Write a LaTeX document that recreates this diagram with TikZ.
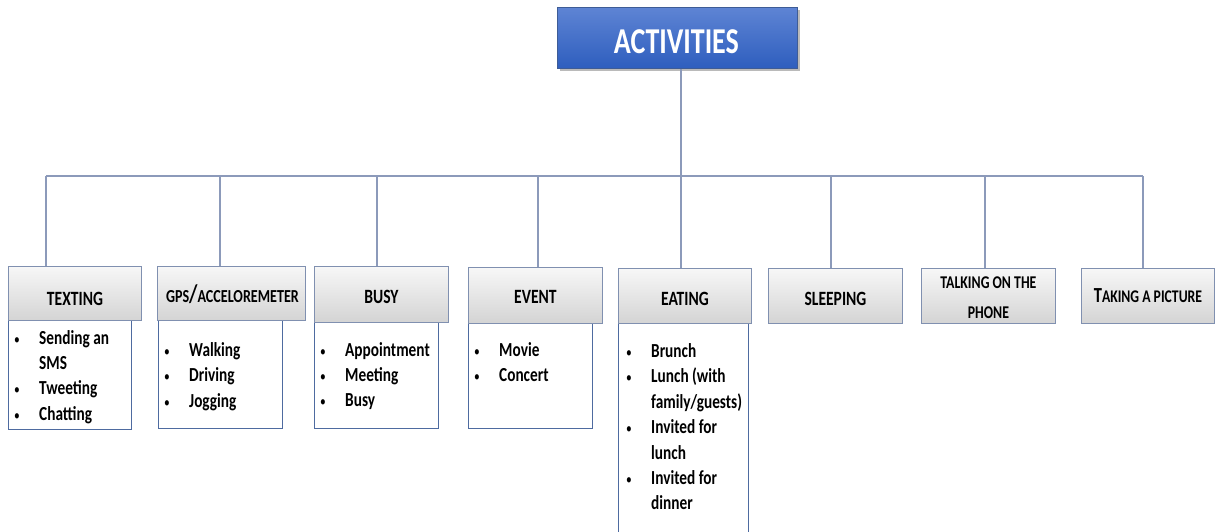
\documentclass[tikz,border=0pt]{standalone}
\usepackage{fontspec}
\setmainfont{Carlito}
\usetikzlibrary{shadows,calc}
\definecolor{linec}{RGB}{140,154,186}
\definecolor{boxb}{RGB}{78,107,160}
\definecolor{hdrb}{RGB}{128,144,176}
\definecolor{hdrtop}{RGB}{247,247,247}
\definecolor{hdrbot}{RGB}{212,212,212}
\definecolor{titletop}{RGB}{94,132,212}
\definecolor{titlebot}{RGB}{46,94,190}
\definecolor{titleb}{RGB}{62,92,150}
\newcommand\vs[1]{\scalebox{1}[1.3]{#1}}
\newcommand\bfs[1]{\fontsize{#1}{#1}\selectfont}
\newcommand\li{\makebox[26pt][l]{\hspace*{1pt}{\normalfont\fontsize{11.5}{11.5}\selectfont•}}}
\newcommand\lc{\hspace*{26pt}}
\newcommand\lst[1]{\vs{\fontsize{15.3}{19.55}\selectfont\begin{tabular}[t]{@{}l@{}}#1\end{tabular}}}
\begin{document}
\begin{tikzpicture}[x=1pt,y=-1pt,
  conn/.style={draw=linec,line width=1.3pt},
  titlebox/.style={draw=titleb,line width=0.8pt,top color=titletop,bottom color=titlebot,inner sep=0,anchor=north west,
    drop shadow={shadow xshift=2.5pt,shadow yshift=-2.5pt,opacity=0.45,fill=black!60}},
  hdr/.style={draw=hdrb,line width=0.9pt,top color=hdrtop,bottom color=hdrbot,inner sep=0,anchor=north west},
  body/.style={draw=boxb,line width=0.9pt,fill=white,inner sep=0,anchor=north west},
  htext/.style={inner sep=0,anchor=base,font=\bfseries,text=black},
  ltext/.style={inner sep=0,anchor=base west,font=\bfseries,text=black}
]
\useasboundingbox (0,0) rectangle (1215,531);
\fill[white] (0,0) rectangle (1215,531);

% title
\node[titlebox,minimum width=240pt,minimum height=61pt] (act) at (557,7) {};
\node[htext,text=white] (actt) at ($(act.center)+(-1,15.3)$) {\vs{\bfs{28}ACTIVITIES}};

% bodies
\node[body,minimum width=123pt,minimum height=109pt] (c1) at (8,320) {};
\node[body,minimum width=124pt,minimum height=108pt] (c2) at (158,320) {};
\node[body,minimum width=124pt,minimum height=107pt] (c3) at (314,321) {};
\node[body,minimum width=124pt,minimum height=106pt] (c4) at (468,322) {};
\node[body,minimum width=130pt,minimum height=215pt] (c5) at (618,323) {};

% headers
\node[hdr,minimum width=133pt,minimum height=54pt] (h1) at (8,266) {};
\node[hdr,minimum width=148pt,minimum height=54pt] (h2) at (157,266) {};
\node[hdr,minimum width=134pt,minimum height=55.5pt] (h3) at (314,266) {};
\node[hdr,minimum width=134pt,minimum height=55.5pt] (h4) at (468,267) {};
\node[hdr,minimum width=133pt,minimum height=55pt] (h5) at (618,268) {};
\node[hdr,minimum width=134pt,minimum height=55pt] (h6) at (768,268) {};
\node[hdr,minimum width=134pt,minimum height=55pt] (h7) at (921,268) {};
\node[hdr,minimum width=133pt,minimum height=55pt] (h8) at (1081,268) {};

% header texts
\node[htext] (t1) at ($(h1.center)+(0,12)$) {\vs{\bfs{15.6}TEXTING}};
\node[htext] (t2) at ($(h2.center)+(1,9)$) {\vs{\bfs{14.1}GPS{\bfs{19.5}/}ACCELOREMETER}};
\node[htext] (t3) at ($(h3.center)+(0,9.5)$) {\vs{\bfs{15.6}BUSY}};
\node[htext] (t4) at ($(h4.center)+(0,8.5)$) {\vs{\bfs{15.6}EVENT}};
\node[htext] (t5) at ($(h5.center)+(0,9.5)$) {\vs{\bfs{15.6}EATING}};
\node[htext] (t6) at ($(h6.center)+(0,9.5)$) {\vs{\bfs{15.6}SLEEPING}};
\node[htext] (t7) at ($(h7.center)+(0,-7.5)$) {\vs{\fontsize{13.8}{23}\selectfont\begin{tabular}[t]{@{}c@{}}TALKING ON THE\\PHONE\end{tabular}}};
\node[htext] (t8) at ($(h8.center)+(0,6.5)$) {\vs{{\bfs{16.5}T}\bfs{13.7}AKING A PICTURE}};

% lists
\node[ltext] (l1) at (13,344) {\lst{\li Sending an\\ \lc SMS\\ \li Tweeting\\ \li Chatting}};
\node[ltext] (l2) at (163,356.5) {\lst{\li Walking\\ \li Driving\\ \li Jogging}};
\node[ltext] (l3) at (319,356) {\lst{\li Appointment\\ \li Meeting\\ \li Busy}};
\node[ltext] (l4) at (473,356) {\lst{\li Movie\\ \li Concert}};
\node[ltext] (l5) at (625,357.5) {\lst{\li Brunch\\ \li Lunch (with\\ \lc family/guests)\\ \li Invited for\\ \lc lunch\\ \li Invited for\\ \lc dinner}};

% connectors
\coordinate (d1) at (46,176);
\coordinate (d2) at (220,176);
\coordinate (d3) at (377,176);
\coordinate (d4) at (538,176);
\coordinate (d5) at (681,176);
\coordinate (d6) at (831,176);
\coordinate (d7) at (985,176);
\coordinate (d8) at (1143,176);
\draw[conn] (d5 |- act.south) -- (d5);
\draw[conn] (d1) -- (d8);
\foreach \i in {1,...,8}{\draw[conn] (d\i) -- (d\i |- h\i.north);}
\end{tikzpicture}
\end{document}
